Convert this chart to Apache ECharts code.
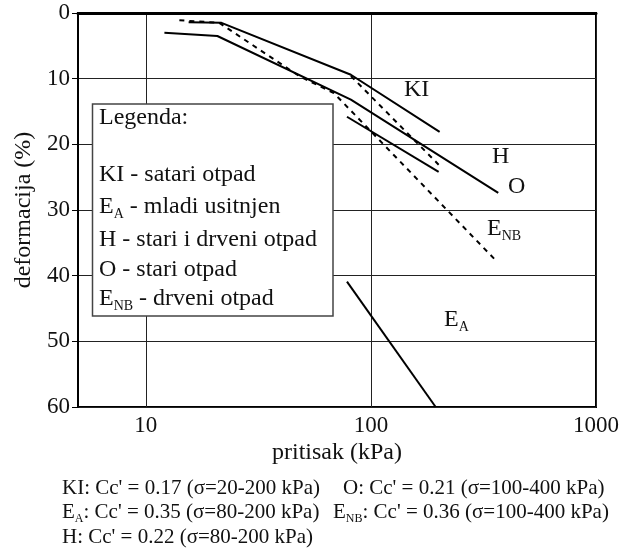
<!DOCTYPE html>
<html>
<head>
<meta charset="utf-8">
<script src="https://cdn.jsdelivr.net/npm/echarts@6/dist/echarts.min.js"></script>
<style>
html,body{margin:0;padding:0;background:#fff;}
#chart{width:622px;height:556px;}
</style>
</head>
<body>
<div id="chart"></div>
<script>
// ---- data (pressure kPa, deformation %) ----
const kiX = [15.5, 21.7, 81.5, 202];
const kiY = [1.4, 1.5, 9.4, 18.1];
const oX = [12.1, 20.8, 81.5, 368];
const oY = [3.0, 3.5, 13.2, 27.4];
const hX = [78.3, 200];
const hY = [15.8, 24.2];
const enbX = [14.1, 21.2, 48.0, 68.5, 357];
const enbY = [1.1, 1.5, 9.6, 12.2, 37.6];
const eaX = [78.3, 194];
const eaY = [40.9, 60.0];
const innerX = [81.5, 200];
const innerY = [9.6, 23.1];

const xTickLabels = [10, 100, 1000];
const yTickLabels = [0, 10, 20, 30, 40, 50, 60];

const xTitle = 'pritisak (kPa)';
const yTitle = 'deformacija (%)';

const legendTitle = 'Legenda:';
const legendRows = [
  'KI - satari otpad',
  'E{s|A} - mladi usitnjen',
  'H - stari i drveni otpad',
  'O - stari otpad',
  'E{s|NB} - drveni otpad'
];
const curveLabels = ['KI', 'H', 'O', 'E{s|NB}', 'E{s|A}'];
const noteLines = [
  ["KI: Cc' = 0.17 (σ=20-200 kPa)", "O: Cc' = 0.21 (σ=100-400 kPa)"],
  ["E{s|A}: Cc' = 0.35 (σ=80-200 kPa)", "E{s|NB}: Cc' = 0.36 (σ=100-400 kPa)"],
  ["H: Cc' = 0.22 (σ=80-200 kPa)", ""]
];

const pair = (xs, ys) => xs.map((x, i) => [x, ys[i]]);
const FONT = '"Liberation Serif", "DejaVu Serif", serif';
const INK = '#111';

function mkLine(name, xs, ys, dashed) {
  return {
    name: name, type: 'line', data: pair(xs, ys), symbol: 'none',
    lineStyle: { color: '#000', width: 2, type: dashed ? [5, 5] : 'solid' },
    silent: true, animation: false, z: 3
  };
}

function txt(text, x, y, size, subSize) {
  const lh = Math.round(size * 1.2);
  return {
    type: 'text', x: x, y: y, z: 20,
    style: {
      text: text, fontSize: size, fontFamily: FONT, fill: INK, lineHeight: lh,
      verticalAlign: 'middle', align: 'left',
      rich: { s: { fontSize: subSize, fontFamily: FONT, fill: INK, verticalAlign: 'bottom', lineHeight: subSize } }
    }
  };
}

const graphics = [];
// legend box
graphics.push({ type: 'rect', z: 15, shape: { x: 92.5, y: 104, width: 240.5, height: 212 },
  style: { fill: '#fff', stroke: '#444', lineWidth: 1.5 } });
graphics.push(txt(legendTitle, 99, 118, 24, 14));
const legendYs = [175, 207, 240, 270, 299];
legendRows.forEach((r, i) => graphics.push(txt(r, 99, legendYs[i], 24, 14)));
// curve labels
const curvePos = [[404, 90], [492, 157], [508, 187], [487, 229], [444, 320]];
curveLabels.forEach((c, i) => graphics.push(txt(c, curvePos[i][0], curvePos[i][1], 24, 14)));
// footnotes
const noteYs = [488, 512, 537];
const noteXs = [[62, 343], [62, 333], [62, 0]];
noteLines.forEach((row, i) => row.forEach((t, j) => { if (t) graphics.push(txt(t, noteXs[i][j], noteYs[i], 21, 12)); }));

const chart = echarts.init(document.getElementById('chart'), null, { renderer: 'canvas' });
chart.setOption({
  animation: false,
  backgroundColor: '#fff',
  grid: { left: 78, top: 13, right: 24, bottom: 149, show: true, borderColor: '#000', borderWidth: 2, containLabel: false },
  xAxis: {
    type: 'log', logBase: 10, min: 5, max: 1000,
    name: xTitle, nameLocation: 'middle', nameGap: 46, nameMoveOverlap: false,
    nameTextStyle: { fontFamily: FONT, fontSize: 24, color: INK, verticalAlign: 'middle' },
    axisLine: { show: true, lineStyle: { color: '#000', width: 3 } },
    axisTick: { show: false },
    axisLabel: {
      fontFamily: FONT, fontSize: 23, color: INK, margin: 7,
      showMinLabel: true, showMaxLabel: true,
      formatter: v => (xTickLabels.indexOf(Math.round(v)) >= 0 ? String(Math.round(v)) : '')
    },
    splitLine: { show: true, lineStyle: { color: '#222', width: 1 } },
    minorTick: { show: false }, minorSplitLine: { show: false }
  },
  yAxis: {
    type: 'value', inverse: true, min: 0, max: 60, interval: 10,
    name: yTitle, nameLocation: 'middle', nameGap: 42, nameRotate: 90, nameMoveOverlap: false,
    nameTextStyle: { fontFamily: FONT, fontSize: 24, color: INK },
    axisLine: { show: true, lineStyle: { color: '#000', width: 2 } },
    axisTick: { show: true, length: 6, inside: false, lineStyle: { color: '#000', width: 1 } },
    axisLabel: { fontFamily: FONT, fontSize: 23, color: INK, margin: 8,
      formatter: v => (yTickLabels.indexOf(v) >= 0 ? String(v) : '') },
    splitLine: { show: true, lineStyle: { color: '#222', width: 1 } }
  },
  series: [
    mkLine('KI', kiX, kiY, false),
    mkLine('O', oX, oY, false),
    mkLine('H', hX, hY, false),
    mkLine('E_NB', enbX, enbY, true),
    mkLine('E_A', eaX, eaY, false),
    mkLine('inner', innerX, innerY, true)
  ],
  graphic: graphics
});
</script>
</body>
</html>
